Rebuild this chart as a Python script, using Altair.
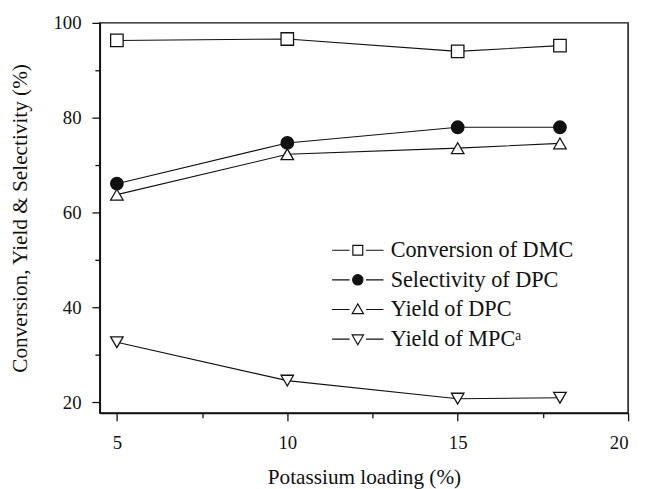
import altair as alt
import pandas as pd

loading = [5, 10, 15, 18]
conversion_dmc = [96.3, 96.6, 94.0, 95.2]
selectivity_dpc = [66.1, 74.7, 78.0, 78.0]
yield_dpc = [63.8, 72.3, 73.6, 74.6]
yield_mpc = [32.7, 24.6, 20.8, 21.0]

series_names = ["Conversion of DMC", "Selectivity of DPC", "Yield of DPC", "Yield of MPC\u1d43"]
series_values = [conversion_dmc, selectivity_dpc, yield_dpc, yield_mpc]

rows = []
for name, vals in zip(series_names, series_values):
    for xv, yv in zip(loading, vals):
        rows.append({"loading": xv, "value": yv, "series": name})
df = pd.DataFrame(rows)

FONT = "Liberation Serif"
INK = "#111111"

plot_shapes = ["square", "circle", "triangle-up", "triangle-down"]
plot_fills = ["white", INK, "white", "white"]
legend_strokes = [INK, INK, INK, INK]
legend_shapes = [
    "M-2.6,0H-0.83M0.83,0H2.6M-0.5,-0.5H0.5V0.5H-0.5Z",
    "M-2.6,0H-0.83M0.83,0H2.6M-0.52,0A0.52,0.52,0,1,0,0.52,0A0.52,0.52,0,1,0,-0.52,0Z",
    "M-2.6,0H-0.83M0.83,0H2.6M0,-0.57L0.57,0.42L-0.57,0.42Z",
    "M-2.6,0H-0.83M0.83,0H2.6M0,0.57L0.57,-0.42L-0.57,-0.42Z",
]

x_enc = alt.X(
    "loading:Q",
    scale=alt.Scale(domain=[4.5, 20], nice=False, zero=False),
    axis=alt.Axis(
        title="Potassium loading (%)",
        values=[5, 7.5, 10, 12.5, 15, 17.5, 20],
        labelExpr="datum.value % 5 === 0 ? datum.label : ''",
        tickSize={"condition": {"test": "datum.value % 5 === 0", "value": 8}, "value": 5},
        grid=False,
        labelPadding=13,
        titleY=71,
        titleBaseline="alphabetic",
    ),
)
y_enc = alt.Y(
    "value:Q",
    scale=alt.Scale(domain=[17.8, 100], nice=False, zero=False),
    axis=alt.Axis(
        title="Conversion, Yield & Selectivity (%)",
        values=[20, 30, 40, 50, 60, 70, 80, 90, 100],
        labelExpr="datum.value % 20 === 0 ? datum.label : ''",
        tickSize={"condition": {"test": "datum.value % 20 === 0", "value": 8}, "value": 5},
        grid=False,
        labelPadding=11,
        titleX=-74,
        titleY=197.5,
        titleBaseline="alphabetic",
    ),
)

base = alt.Chart(df)

lines = base.mark_line(color=INK, strokeWidth=1.1).encode(
    x=x_enc, y=y_enc, detail="series:N"
)

points = base.mark_point(size=160, strokeWidth=1.3, opacity=1, stroke=INK).encode(
    x=x_enc,
    y=y_enc,
    shape=alt.Shape("series:N", scale=alt.Scale(domain=series_names, range=plot_shapes), legend=None),
    fill=alt.Fill("series:N", scale=alt.Scale(domain=series_names, range=plot_fills), legend=None),
)

legend_cfg = alt.Legend(
    title=None,
    orient="none",
    legendX=250,
    legendY=219,
    labelFont=FONT,
    labelFontSize=22.5,
    labelColor=INK,
    labelOffset=22,
    symbolSize=400,
    symbolStrokeWidth=1.2,
    symbolStrokeColor=INK,
    symbolOpacity=1,
    rowPadding=7,
    labelLimit=400,
)

legend_layer = base.transform_filter("false").mark_point(opacity=1).encode(
    x=x_enc,
    y=y_enc,
    shape=alt.Shape("series:N", scale=alt.Scale(domain=series_names, range=legend_shapes), legend=legend_cfg),
    fill=alt.Fill("series:N", scale=alt.Scale(domain=series_names, range=plot_fills), legend=legend_cfg),
    stroke=alt.Stroke("series:N", scale=alt.Scale(domain=series_names, range=legend_strokes), legend=legend_cfg),
)

chart = (
    alt.layer(lines, points, legend_layer)
    .resolve_scale(shape="independent", fill="independent", stroke="independent")
    .properties(
        width=535,
        height=395,
        autosize=alt.AutoSizeParams(type="none"),
        padding={"left": 93, "top": 12, "right": 9, "bottom": 74},
        background="white",
    )
    .configure_view(stroke=INK, strokeWidth=1.5)
    .configure_axis(
        domainColor=INK,
        domainWidth=1.5,
        tickColor=INK,
        tickWidth=1.3,
        labelFont=FONT,
        labelFontSize=19,
        labelColor=INK,
        titleFont=FONT,
        titleFontSize=21.5,
        titleFontWeight="normal",
        titleColor=INK,
    )
)

chart.save("out.html", embed_options={"renderer": "svg", "actions": False})
